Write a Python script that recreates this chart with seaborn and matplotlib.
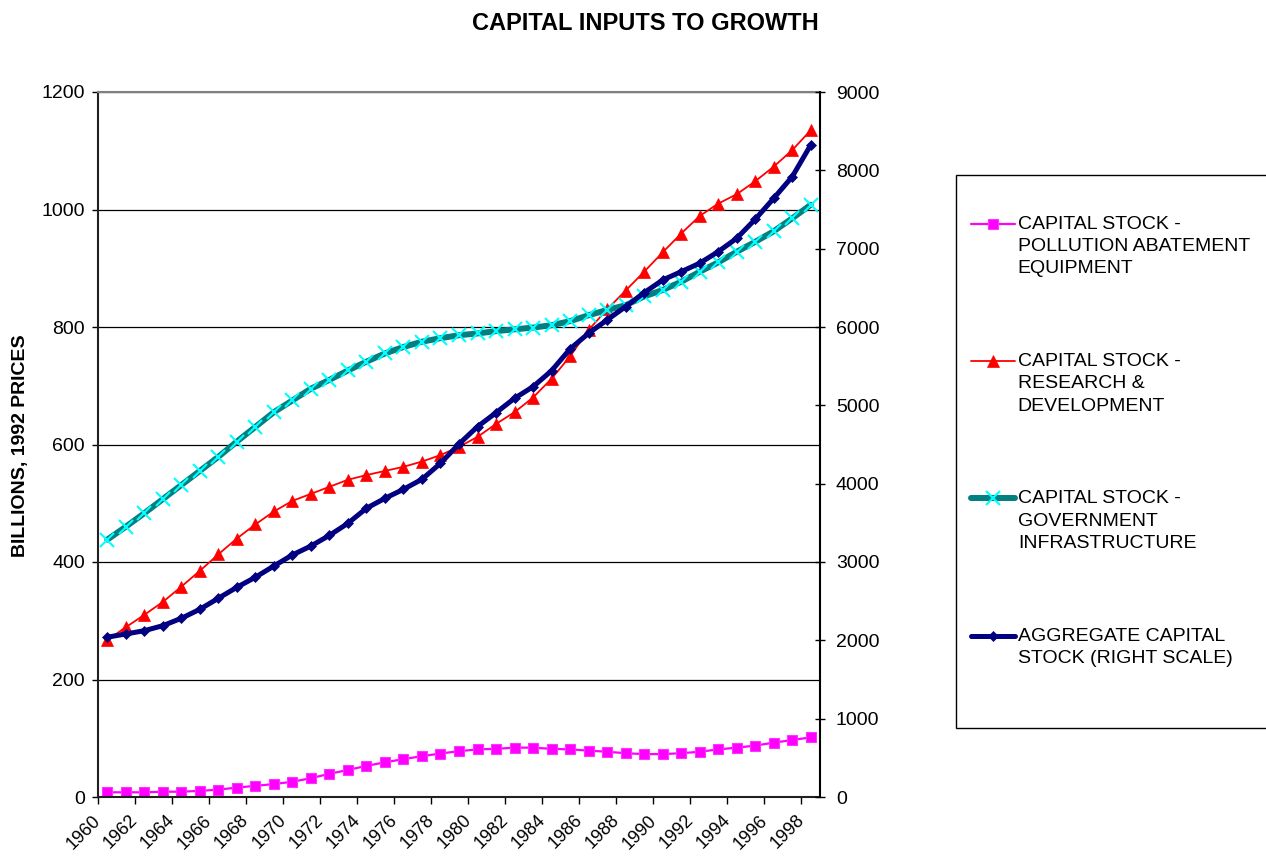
import numpy as np
import pandas as pd
import matplotlib
matplotlib.use("Agg")
import matplotlib.pyplot as plt
import matplotlib.transforms as mtransforms
from matplotlib.patches import Rectangle
from matplotlib.legend_handler import HandlerLine2D
import seaborn as sns

# ---------------- data ----------------
years = list(range(1960, 1999))
pollution_abatement = [8, 8, 8, 9, 9, 10.5, 12.5, 16, 19, 22,
                       26, 32, 39.5, 46, 53, 59, 64.5, 69.5, 74, 78,
                       81, 82, 84, 84, 82, 81, 79, 77, 74.5, 73,
                       73, 74.5, 77, 81, 84, 87.5, 92.5, 97, 101.5]
research_development = [267, 289, 310, 332, 358, 385, 413, 440, 464, 486,
                        504, 516, 528, 540, 548, 555, 562, 571, 582, 596,
                        613, 635, 655, 680, 712, 750, 795, 830, 862, 894,
                        927, 959, 989, 1010, 1026, 1048, 1073, 1101, 1135]
government_infrastructure = [438, 460, 483, 507, 531, 555, 579, 605, 630, 655,
                             675, 695, 710, 726, 741, 755, 766, 775, 781, 786,
                             789, 793, 796, 799, 803, 810, 820, 829, 837, 852,
                             863, 877, 894, 910, 928, 945, 963, 985, 1008]
aggregate_capital = [2040, 2081, 2123, 2187, 2281, 2396, 2537, 2677, 2805, 2949,
                     3090, 3204, 3340, 3494, 3686, 3813, 3928, 4056, 4260, 4507,
                     4728, 4906, 5090, 5238, 5442, 5720, 5920, 6090, 6260, 6438,
                     6600, 6706, 6814, 6962, 7132, 7375, 7643, 7919, 8324]
tick_labels = [str(y) for y in years[::2]]
series_labels = ["CAPITAL STOCK -\nPOLLUTION ABATEMENT\nEQUIPMENT",
                 "CAPITAL STOCK -\nRESEARCH &\nDEVELOPMENT",
                 "CAPITAL STOCK -\nGOVERNMENT\nINFRASTRUCTURE",
                 "AGGREGATE CAPITAL\nSTOCK (RIGHT SCALE)"]
left_ticks = list(range(0, 1201, 200))
right_ticks = list(range(0, 9001, 1000))

df = pd.DataFrame({
    "pos": np.arange(len(years)),
    "pollution": pollution_abatement,
    "research": research_development,
    "government": government_infrastructure,
    "aggregate": aggregate_capital,
})

# ---------------- style ----------------
sns.set_theme(style="ticks")
plt.rcParams["font.family"] = ["Liberation Sans", "DejaVu Sans"]
plt.rcParams.update({
    "axes.edgecolor": "black", "xtick.color": "black", "ytick.color": "black",
    "text.color": "black", "axes.labelcolor": "black",
})

W, H = 1266, 856
fig = plt.figure(figsize=(W / 100, H / 100), dpi=100)


def fx(px):
    return px / W


def fy(py):
    return 1 - py / H


ax = fig.add_axes([fx(98), fy(797), (820 - 98) / W, (797 - 92) / H])
ax2 = ax.twinx()

sns.lineplot(data=df, x="pos", y="pollution", ax=ax, color="#FF00FF",
             linewidth=1.6, marker="s", markersize=7, markeredgecolor="#FF33FF",
             markeredgewidth=0.8, label=series_labels[0], legend=False)
sns.lineplot(data=df, x="pos", y="research", ax=ax, color="#FF0000",
             linewidth=1.3, marker="^", markersize=9, markeredgecolor="#FF0000",
             markeredgewidth=0.5, label=series_labels[1], legend=False)
sns.lineplot(data=df, x="pos", y="government", ax=ax, color="#008080",
             linewidth=4.3, marker="x", markersize=10, markeredgecolor="#00FFFF",
             markeredgewidth=1.5, label=series_labels[2], legend=False)
sns.lineplot(data=df, x="pos", y="aggregate", ax=ax2, color="#000080",
             linewidth=3.6, marker="D", markersize=5, markeredgecolor="#000080",
             markeredgewidth=0.5, label=series_labels[3], legend=False)

# ---------------- axes ----------------
ax.set_xlim(-0.5, len(years) - 0.5)
ax.set_ylim(0, 1200)
ax2.set_ylim(0, 9000)
ax.set_yticks(left_ticks)
ax2.set_yticks(right_ticks)

ax.set_xticks(np.arange(-0.5, len(years) - 1, 2))
ax.set_xticklabels([])
ax.set_xticks(np.arange(0, len(years), 2), minor=True)
ax.set_xticklabels(tick_labels, minor=True)
ax.tick_params(axis="x", which="major", direction="out", length=5, width=1, bottom=True)
ax.tick_params(axis="x", which="minor", length=0, pad=15, labelsize=13, bottom=True)
offset = mtransforms.ScaledTranslation(-9 / 100, 0, fig.dpi_scale_trans)
for lab in ax.get_xticklabels(minor=True):
    lab.set_rotation(45)
    lab.set_ha("right")
    lab.set_va("center")
    lab.set_rotation_mode("anchor")
    lab.set_transform(lab.get_transform() + offset)

ax.tick_params(axis="y", direction="out", length=4.5, width=1, pad=5, labelsize=14, left=True)
ax2.tick_params(axis="y", direction="inout", length=7, width=1, pad=8, labelsize=14, right=True)

ax.set_xlabel("")
ax2.set_ylabel("")
ax.set_ylabel("BILLIONS, 1992 PRICES", fontsize=14, fontweight="bold", va="center")
ax.yaxis.set_label_coords((20.5 - 98) / 722, (797 - 446) / 705)

ax.grid(axis="y", color="black", linewidth=0.9)
ax.grid(axis="x", visible=False)
ax.set_axisbelow(True)

for s in ["left", "bottom"]:
    ax.spines[s].set_color("#202020")
    ax.spines[s].set_linewidth(1.5)
ax.spines["top"].set_visible(True)
ax.spines["top"].set_color("#808080")
ax.spines["top"].set_linewidth(1.5)
ax.spines["right"].set_visible(False)
for s in ["left", "bottom", "top"]:
    ax2.spines[s].set_visible(False)
ax2.spines["right"].set_visible(True)
ax2.spines["right"].set_color("black")
ax2.spines["right"].set_linewidth(1.5)

# ---------------- title ----------------
fig.suptitle("CAPITAL INPUTS TO GROWTH", x=fx(645), y=fy(23), va="center",
             fontsize=17, fontweight="bold")

# ---------------- legend ----------------
class FirstLineHandler(HandlerLine2D):
    def __init__(self, shift_pt, **kw):
        super().__init__(**kw)
        self.shift_pt = shift_pt

    def create_artists(self, legend, orig_handle, xdescent, ydescent, width,
                       height, fontsize, trans):
        arts = super().create_artists(legend, orig_handle, xdescent, ydescent,
                                      width, height, fontsize, trans)
        for a in arts:
            a.set_ydata(np.asarray(a.get_ydata(), dtype=float) + self.shift_pt)
        return arts


fig.add_artist(Rectangle((fx(956), fy(728)), fx(1270) - fx(956), fy(175) - fy(728),
                         transform=fig.transFigure, facecolor="white",
                         edgecolor="black", linewidth=1.0, zorder=0))

h1, l1 = ax.get_legend_handles_labels()
h2, l2 = ax2.get_legend_handles_labels()
handles = h1 + h2
labels = l1 + l2
line_step_pt = 16.2
handler_map = {h: FirstLineHandler(lab.count("\n") / 2 * line_step_pt)
               for h, lab in zip(handles, labels)}
leg = fig.legend(handles, labels, loc="upper left",
                 bbox_to_anchor=(fx(971), fy(216)), bbox_transform=fig.transFigure,
                 frameon=False, fontsize=14, handlelength=2.26, handletextpad=0.15,
                 borderpad=0, borderaxespad=0, labelspacing=3.9, numpoints=1,
                 handler_map=handler_map)
for t in leg.get_texts():
    t.set_linespacing(1.4)

fig.savefig("out.png", dpi=100)
